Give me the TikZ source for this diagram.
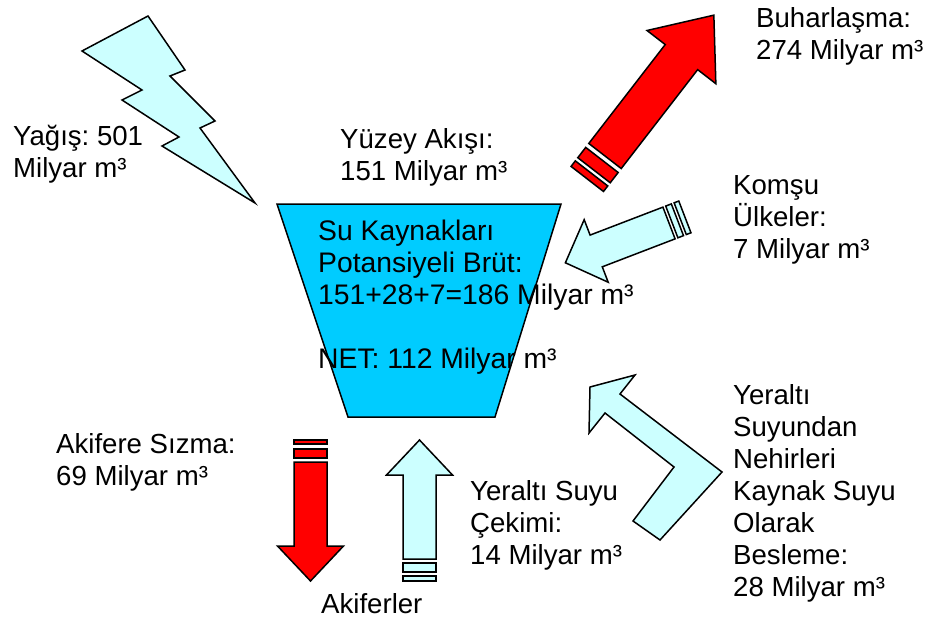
\documentclass[tikz,border=0pt]{standalone}
\usepackage{fontspec}
\setmainfont{Liberation Sans}
\frenchspacing
\definecolor{lcyan}{HTML}{CCFFFF}
\definecolor{funnel}{HTML}{00CCFF}
\definecolor{ared}{HTML}{FF0000}
\tikzset{
  outl/.style={draw=black, line width=1.5pt, line join=miter},
  lbl/.style={anchor=base west, inner sep=0pt, font=\fontsize{27.6}{32}\selectfont},
  flbl/.style={lbl, font=\fontsize{28.3}{32}\selectfont},
}
% block arrow along local +x: fill, shaft length, shaft width, head length, head width
\newcommand\blockarrow[5]{%
  \filldraw[outl, fill=#1] (0,{-#3/2}) -- (#2,{-#3/2}) -- (#2,{-#5/2}) -- ({#2+#4},0)
    -- (#2,{#5/2}) -- (#2,{#3/2}) -- (0,{#3/2}) -- cycle;}
% stripe behind arrow: fill, from, to, width
\newcommand\arrowstripe[4]{%
  \filldraw[outl, fill=#1] (#2,{-#4/2}) rectangle (#3,{#4/2});}
\newcommand\lines[1]{\begin{tabular}[t]{@{}l@{}}#1\end{tabular}}
\begin{document}
\begin{tikzpicture}[x=1pt, y=-1pt]
\useasboundingbox (0,0) rectangle (928,618);

% lightning (precipitation)
\filldraw[outl, fill=lcyan] (148,16) -- (185,70) -- (170,76) -- (215,121) -- (200,128)
  -- (255,203) -- (162,146) -- (179,137) -- (122,100) -- (142,90) -- (82,51) -- cycle;

% funnel
\filldraw[outl, fill=funnel] (277,204) -- (561,204) -- (495,417) -- (348,417) -- cycle;

% evaporation arrow
\begin{scope}[shift={(605,156)}, rotate=52.3]
  \blockarrow{ared}{125}{41}{53}{87}
  \arrowstripe{ared}{-18}{-5}{41}
  \arrowstripe{ared}{-29}{-22}{41}
\end{scope}

% neighbour countries arrow
\begin{scope}[shift={(669,223)}, rotate=201]
  \blockarrow{lcyan}{78}{34}{33}{67}
  \arrowstripe{lcyan}{-9}{-3}{34}
  \arrowstripe{lcyan}{-17}{-12}{34}
\end{scope}

% infiltration arrow (down)
\begin{scope}[shift={(310.5,462)}, rotate=-90]
  \blockarrow{ared}{84}{33}{35}{66}
  \arrowstripe{ared}{-13}{-4}{33}
  \arrowstripe{ared}{-22}{-18}{33}
\end{scope}

% groundwater withdrawal arrow (up)
\begin{scope}[shift={(419.5,559)}, rotate=90]
  \blockarrow{lcyan}{84}{33}{35}{66}
  \arrowstripe{lcyan}{-13}{-4}{33}
  \arrowstripe{lcyan}{-22}{-17}{33}
\end{scope}

% bent arrow
\filldraw[outl, fill=lcyan] (590,387) -- (635,375) -- (620,394) -- (722,472) -- (660,540)
  -- (633,521) -- (674,467) -- (605,413) -- (589,433) -- cycle;

% labels
\node[lbl] (yagis) at (13,145) {\lines{Yağış: 501\\Milyar m³}};
\node[lbl] (yuzey) at (340,148) {\lines{Yüzey Akışı:\\151 Milyar m³}};
\node[lbl] (buhar) at (756,28) {\lines{Buharlaşma:\\274 Milyar m³}};
\node[lbl] (komsu) at (733,194) {\lines{Komşu\\Ülkeler:\\7 Milyar m³}};
\node[flbl] (su) at (318,240) {\lines{Su Kaynakları\\Potansiyeli Brüt:\\151+28+7=186 Milyar m³\\ \\NET: 112 Milyar m³}};
\node[lbl] (akifere) at (56,453) {\lines{Akifere Sızma:\\69 Milyar m³}};
\node[lbl] (cekim) at (470,500) {\lines{Yeraltı Suyu\\Çekimi:\\14 Milyar m³}};
\node[lbl] (besleme) at (733,404) {\lines{Yeraltı\\Suyundan\\Nehirleri\\Kaynak Suyu\\Olarak\\Besleme:\\28 Milyar m³}};
\node[lbl] (akiferler) at (321,613) {Akiferler};
\end{tikzpicture}
\end{document}
